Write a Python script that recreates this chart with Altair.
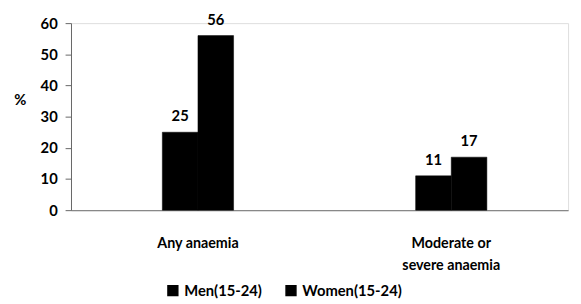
import altair as alt
import pandas as pd

categories = ["Any anaemia", "Moderate or severe anaemia"]
groups = ["Men(15-24)", "Women(15-24)"]
men = [25, 11]
women = [56, 17]
y_ticks = [0, 10, 20, 30, 40, 50, 60]

rows = []
for c, m, w in zip(categories, men, women):
    rows.append({"cat": c, "grp": groups[0], "val": m})
    rows.append({"cat": c, "grp": groups[1], "val": w})
df = pd.DataFrame(rows)

FONT = "Lato"
label_expr = "datum.value == 'Moderate or severe anaemia' ? ['Moderate or', 'severe anaemia'] : datum.value"

xscale = alt.Scale(paddingInner=0.4375, paddingOuter=0.2, align=0.55)
xenc = alt.X("cat:N", sort=categories, scale=xscale,
             axis=alt.Axis(title=None, labelExpr=label_expr, labelAngle=0,
                           labelFont=FONT, labelFontWeight="bold", labelFontSize=14.5,
                           labelColor="black", labelPadding=34, labelLineHeight=22,
                           labelBaseline="middle",
                           ticks=False, domainColor="#888888", domainWidth=1.2))
xoff = alt.XOffset("grp:N", sort=groups, scale=alt.Scale(paddingOuter=1, paddingInner=0))

yenc = alt.Y("val:Q", scale=alt.Scale(domain=[0, 60]),
             axis=alt.Axis(values=y_ticks, tickCount=7, title="%", titleAngle=0,
                           titleX=-52, titleY=86, titleFont=FONT, titleFontSize=15,
                           titleFontWeight="bold", titleColor="black",
                           labelFont=FONT, labelFontWeight="bold", labelFontSize=15,
                           labelColor="black", labelPadding=8, grid=False,
                           labelOverlap=False, labelBound=False,
                           tickSize=6, tickColor="#666666", domainColor="#666666"))

bars = alt.Chart(df).mark_bar(stroke="black", strokeWidth=0.5).encode(
    x=xenc, xOffset=xoff, y=yenc,
    color=alt.Color("grp:N", sort=groups,
                    scale=alt.Scale(domain=groups, range=["black", "black"]),
                    legend=alt.Legend(title=None, orient="none", direction="horizontal",
                                      legendX=96, legendY=264,
                                      symbolType="square", symbolSize=100,
                                      labelFont=FONT, labelFontWeight="bold",
                                      labelFontSize=15, labelColor="black",
                                      columnPadding=20)),
)

text = alt.Chart(df).mark_text(dy=-16, font=FONT, fontWeight="bold", fontSize=15,
                               color="black").encode(
    x=xenc, xOffset=xoff, y=yenc, text="val:Q")

chart = alt.layer(bars, text).properties(
    width=505, height=190
).configure_view(stroke=None).configure(padding={"left": 5, "top": 2, "right": 5, "bottom": 5})

chart.save("out.html", embed_options={"renderer": "svg", "actions": False})
